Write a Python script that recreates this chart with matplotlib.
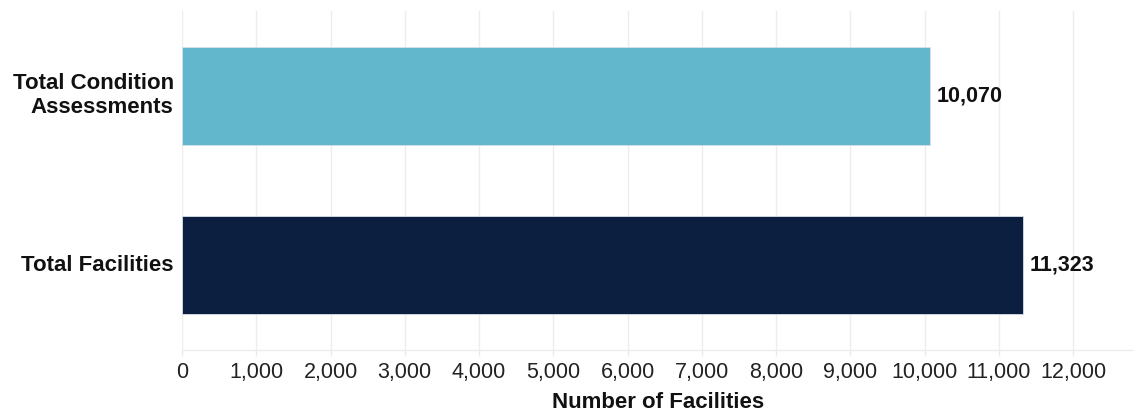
import matplotlib
matplotlib.use("Agg")
import matplotlib.pyplot as plt
from matplotlib.ticker import FuncFormatter

# Data
categories = ["Total Facilities", "Total Condition\nAssessments"]
values = [11323, 10070]
bar_colors = ["#0C1F40", "#62B7CD"]
x_ticks = list(range(0, 13000, 1000))

plt.rcParams["font.family"] = ["Liberation Sans", "DejaVu Sans"]

fig = plt.figure(figsize=(11.34, 4.18), dpi=100)
ax = fig.add_axes([0.1605, 0.1627, 0.8395, 0.811])

positions = list(range(len(categories)))
ax.barh(positions, values, height=0.58, color=bar_colors,
        edgecolor="#D8E0E8", linewidth=0.6, zorder=3)

for pos, val in zip(positions, values):
    ax.annotate(f"{val:,}", xy=(val, pos), xytext=(5, 0),
                textcoords="offset points", ha="left", va="center",
                fontsize=15.5, fontweight="bold", color="#111111")

ax.set_xlim(0, 12820)
ax.set_ylim(-0.5, 1.5)
ax.set_xticks(x_ticks)
ax.xaxis.set_major_formatter(FuncFormatter(lambda v, p: f"{int(v):,}"))
ax.set_yticks(positions)
ax.set_yticklabels(categories, fontsize=16, fontweight="bold", color="#111111",
                   linespacing=1.18)
for lbl in ax.get_yticklabels():
    lbl.set_verticalalignment("center")

ax.tick_params(axis="x", labelsize=15.5, labelcolor="#222222", length=4,
               color="#EBEBEB", width=1, pad=5)
ax.tick_params(axis="y", length=0, pad=6)

ax.grid(axis="x", color="#EDEDED", linewidth=1, zorder=0)
for side in ["top", "right", "left"]:
    ax.spines[side].set_visible(False)
ax.spines["bottom"].set_color("#EDEDED")
ax.spines["bottom"].set_linewidth(1)

ax.set_xlabel("Number of Facilities", fontsize=16, fontweight="bold",
              color="#111111", labelpad=6)

fig.savefig("out.png", dpi=100, facecolor="white")
